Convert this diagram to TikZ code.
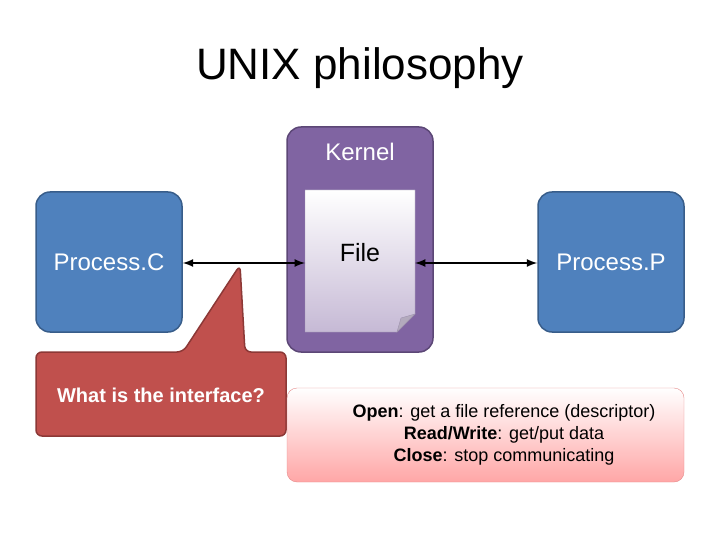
\documentclass[tikz,border=0pt]{standalone}
\usepackage{fontspec}
\setmainfont{Liberation Sans}
\definecolor{procblue}{HTML}{4F81BD}
\definecolor{procedge}{HTML}{385D8A}
\definecolor{kernpurple}{HTML}{8064A2}
\definecolor{kernedge}{HTML}{5C4776}
\definecolor{callred}{HTML}{C0504D}
\definecolor{calledge}{HTML}{8C3836}
\definecolor{notepink}{HTML}{FFA6A6}
\definecolor{noteedge}{HTML}{E58A8A}
\tikzset{
  process/.style={draw=procedge, line width=1.5pt, fill=procblue, rounded corners=14pt,
    minimum width=146pt, minimum height=140pt, text=white, font=\fontsize{24}{28}\selectfont},
  link/.style={<->, >=latex, line width=2.5pt}
}
\begin{document}
\begin{tikzpicture}[x=1pt,y=-1pt]
\useasboundingbox (0,0) rectangle (720,540);

		\node[font=\fontsize{44}{52}\selectfont] (title) at (360,68) {UNIX philosophy};

		\node[draw=kernedge, line width=1.5pt, fill=kernpurple, rounded corners=14pt,
		  minimum width=146pt, minimum height=225pt] (kernel) at (360,239.5) {};
		\node[text=white, font=\fontsize{24}{28}\selectfont] (kernlabel) at (360,152) {Kernel};

		\shade[top color=white, bottom color=kernpurple!45, draw=kernedge!60]
		  (305,190) -- (415,190) -- (415,314) -- (397,332) -- (305,332) -- cycle;
		\fill[kernpurple!50!gray!60, draw=kernedge!60] (415,314) -- (397,332) -- (401,318) -- cycle;
		\node[font=\fontsize{25}{28}\selectfont] (file) at (360,253) {File};
		\coordinate (fileL) at (305,263);
		\coordinate (fileR) at (415,263);

		\node[process] (procC) at (109,262) {Process.C};
		\node[process] (procP) at (611,262) {Process.P};

		\draw[link] (procC.east |- fileL) -- (fileL);
		\draw[link] (fileR) -- (procP.west |- fileR);

		\draw[draw=calledge, line width=1.5pt, fill=callred, rounded corners=6pt]
		  (36,352) -- (183,352) -- (240,265) -- (245,352) -- (286,352)
		  -- (286,436) -- (36,436) -- cycle;
		\node[text=white, font=\bfseries\fontsize{20}{24}\selectfont] (question) at (161,395) {What is the interface?};

		\shade[top color=white, bottom color=notepink, draw=noteedge, rounded corners=10pt]
		  (287,388) rectangle (684,482);
		\node[align=center, font=\fontsize{18}{22}\selectfont] (note) at (504,435)
		  {\textbf{Open}: get a file reference (descriptor)\\
		   \textbf{Read/Write}: get/put data\\
		   \textbf{Close}: stop communicating};

\end{tikzpicture}
\end{document}
